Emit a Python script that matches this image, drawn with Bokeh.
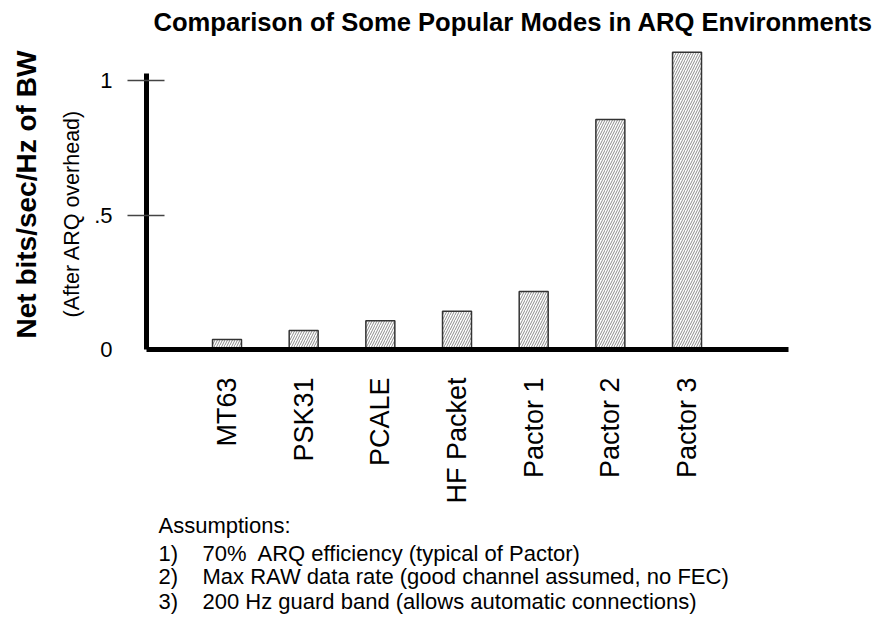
import math
from bokeh.plotting import figure
from bokeh.models import LinearAxis, FixedTicker, Range1d, ColumnDataSource, Title
from bokeh.embed import file_html
from bokeh.resources import INLINE

# ---- data ----
modes = ["MT63", "PSK31", "PCALE", "HF Packet", "Pactor 1", "Pactor 2", "Pactor 3"]
values = [0.037, 0.071, 0.107, 0.142, 0.216, 0.855, 1.105]
y_ticks = [0.0, 0.5, 1.0]
y_tick_labels = ["0", ".5", "1"]
y_tick_marks = [0.5, 1.0]
title_text = "Comparison of Some Popular Modes in ARQ Environments"
y_label_main = "Net bits/sec/Hz of BW"
y_label_sub = "(After ARQ overhead)"
notes_head = "Assumptions:"
note_nums = ["1)", "2)", "3)"]
note_texts = [
    "70%\u00a0 ARQ efficiency (typical of Pactor)",
    "Max RAW data rate (good channel assumed, no FEC)",
    "200 Hz guard band (allows automatic connections)",
]

FONT = "Liberation Sans"
xpos = list(range(len(modes)))
src = ColumnDataSource(dict(x=xpos, top=values))

p = figure(frame_width=654, frame_height=312,
           min_border_left=146, min_border_right=84,
           min_border_top=37, min_border_bottom=268,
           x_range=Range1d(-1.05, 7.48), y_range=Range1d(0, 1.16),
           x_axis_type=None, y_axis_type=None,
           output_backend="svg", toolbar_location=None)
p.outline_line_color = None
p.grid.visible = False
p.background_fill_color = "white"
p.border_fill_color = "white"

p.vbar(x="x", top="top", bottom=0, width=0.378, source=src,
       fill_color="white", line_color="#333333", line_width=1.5,
       hatch_pattern="/", hatch_color="#8c8c8c", hatch_scale=5, hatch_weight=1)

# title
p.title.text = title_text
p.title.align = "left"
p.title.offset = 7
p.title.standoff = 4
p.title.text_font = FONT
p.title.text_font_size = "25.6px"
p.title.text_font_style = "bold"
p.title.text_color = "black"

# y axis (nearest the frame)
yaxis = LinearAxis(ticker=FixedTicker(ticks=y_ticks, minor_ticks=y_tick_marks),
                   major_label_overrides={t: l for t, l in zip(y_ticks, y_tick_labels)},
                   bounds=(0, 1.026))
yaxis.axis_line_width = 5
yaxis.axis_line_color = "black"
yaxis.major_tick_line_color = None
yaxis.major_tick_in = 0
yaxis.major_tick_out = 19
yaxis.minor_tick_in = 18
yaxis.minor_tick_out = 19
yaxis.minor_tick_line_width = 1.5
yaxis.minor_tick_line_color = "#444444"
yaxis.major_label_standoff = 15
yaxis.major_label_text_font = FONT
yaxis.major_label_text_font_size = "22px"
yaxis.major_label_text_color = "black"
p.add_layout(yaxis, "left")

sub = Title(text=y_label_sub, align="left", offset=32, standoff=16,
            text_font=FONT, text_font_size="21.5px", text_font_style="normal",
            text_color="black")
p.add_layout(sub, "left")
main = Title(text=y_label_main, align="left", offset=11, standoff=16,
             text_font=FONT, text_font_size="28px", text_font_style="bold",
             text_color="black")
p.add_layout(main, "left")

# x axis; its line reaches a little left of the y axis
xaxis = LinearAxis(ticker=FixedTicker(ticks=xpos),
                   major_label_overrides={i: m for i, m in zip(xpos, modes)},
                   bounds=(-1.167, 7.323))
xaxis.major_label_orientation = math.pi / 2
xaxis.axis_line_width = 5
xaxis.axis_line_color = "black"
xaxis.major_tick_line_color = None
xaxis.minor_tick_line_color = None
xaxis.major_tick_out = 0
xaxis.major_tick_in = 0
xaxis.major_label_standoff = 28
xaxis.major_label_text_font = FONT
xaxis.major_label_text_font_size = "27px"
xaxis.major_label_text_color = "black"
p.add_layout(xaxis, "below")

# assumptions
SP = "\u00a0"
head = Title(text=notes_head, align="left", offset=12, standoff=8,
             text_font=FONT, text_font_size="22px", text_font_style="normal",
             text_color="black")
p.add_layout(head, "below")
for i, (n, t) in enumerate(zip(note_nums, note_texts)):
    p.add_layout(Title(text=n + SP * 4 + t, align="left", offset=12,
                       standoff=-6 if i == 0 else -2,
                       text_font=FONT, text_font_size="22px", text_font_style="normal",
                       text_color="black"), "below")

open("out.html", "w").write(file_html(p, INLINE))
